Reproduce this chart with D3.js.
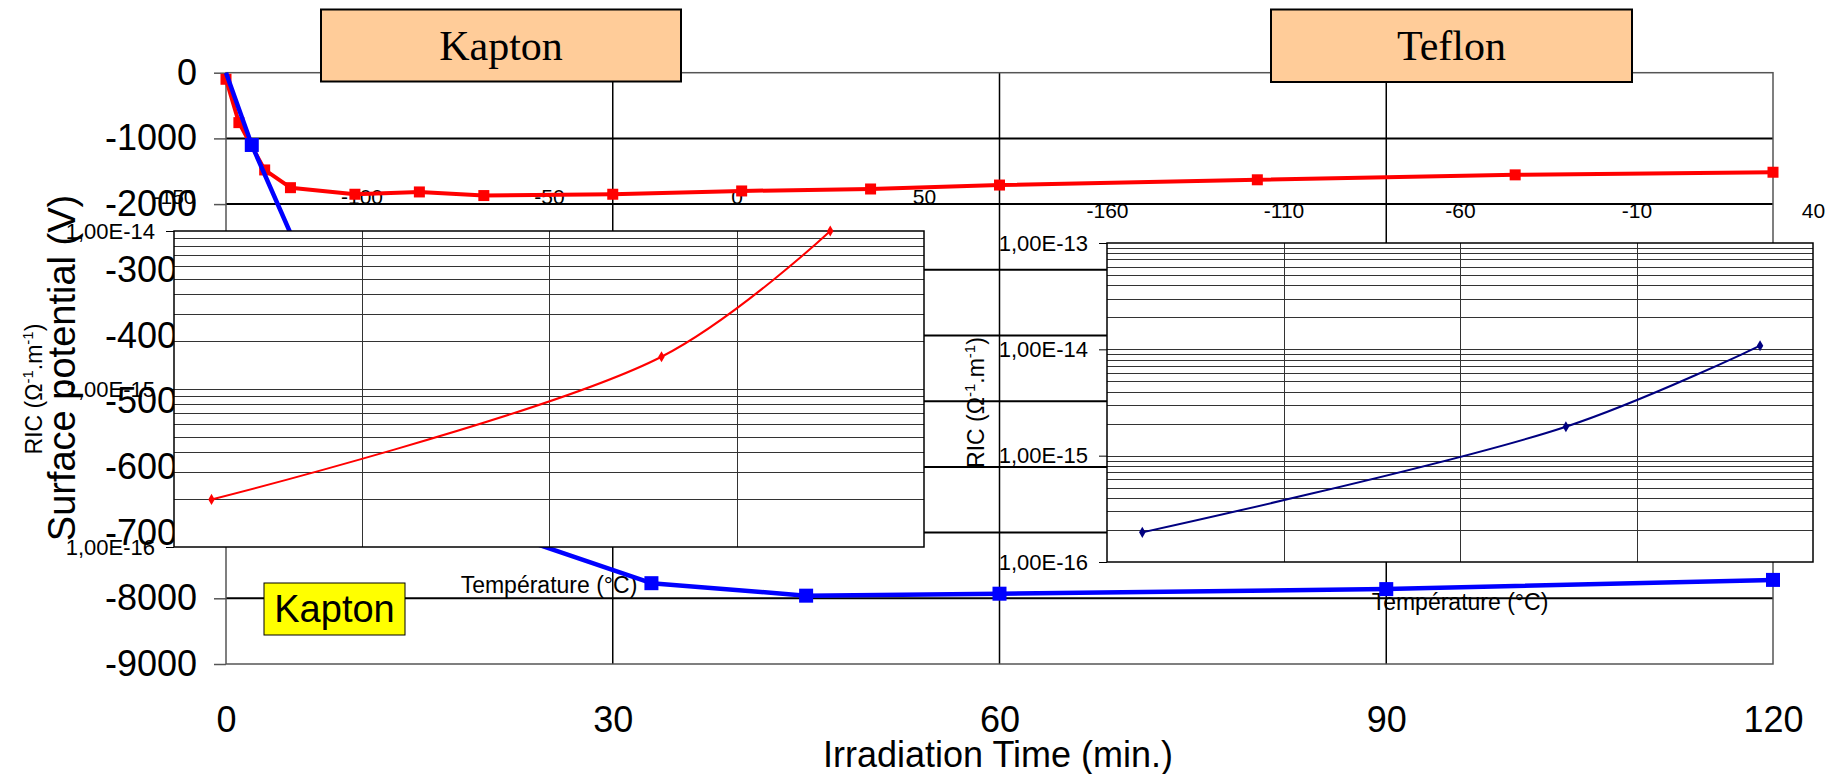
<!DOCTYPE html>
<html><head><meta charset="utf-8">
<script src="https://cdn.jsdelivr.net/npm/d3@7"></script>
<style>html,body{margin:0;padding:0;background:#fff;} svg{display:block;}</style>
</head><body>
<svg id="c" width="1844" height="774"></svg>
<script>
// ---- Main chart data (surface potential vs irradiation time) ----
const teflonTime = [0, 1, 3, 5, 10, 15, 20, 30, 40, 50, 60, 80, 100, 120];
const teflonPotential = [-100, -760, -1480, -1750, -1850, -1815, -1870, -1850, -1800, -1770, -1710, -1630, -1555, -1515];
const kaptonTime = [0, 2, 10, 15, 20, 33, 45, 60, 90, 120];
const kaptonPotential = [0, -1100, -4680, -6400, -6900, -7770, -7960, -7930, -7860, -7720];
const mainXTicks = [0, 30, 60, 90, 120];
const mainYTicks = [0, -1000, -2000, -3000, -4000, -5000, -6000, -7000, -8000, -9000];

// ---- Inset data (RIC vs temperature) ----
const kaptonRicTemp = [-140, -20, 25];
const kaptonRic = [2e-16, 1.6e-15, 1e-14];
const kaptonRicXTicks = [-150, -100, -50, 0, 50];
const kaptonRicYTicks = [1e-16, 1e-15, 1e-14];

const teflonRicTemp = [-150, -30, 25];
const teflonRic = [1.9e-16, 1.87e-15, 1.08e-14];
const teflonRicXTicks = [-160, -110, -60, -10, 40];
const teflonRicYTicks = [1e-16, 1e-15, 1e-14, 1e-13];

const SANS = "'Liberation Sans', Arial, sans-serif";
const SERIF = "'Liberation Serif', 'Times New Roman', serif";

const svg = d3.select("#c");
const x = d3.scaleLinear().domain([0, 120]).range([226, 1773]);
const y = d3.scaleLinear().domain([-9000, 0]).range([664, 72.7]);

// ---------- layer 1 : main grid, border, axes ----------
const gMain = svg.append("g");
gMain.selectAll("line.hg").data(mainYTicks.filter(v => v > -9000 && v < 0)).join("line")
  .attr("class", "hg")
  .attr("x1", x(0)).attr("x2", x(120))
  .attr("y1", d => y(d)).attr("y2", d => y(d))
  .attr("stroke", "#000").attr("stroke-width", 2);
gMain.selectAll("line.vg").data(mainXTicks.filter(v => v > 0 && v < 120)).join("line")
  .attr("class", "vg")
  .attr("x1", d => x(d)).attr("x2", d => x(d))
  .attr("y1", y(0)).attr("y2", y(-9000))
  .attr("stroke", "#000").attr("stroke-width", 1.5);
gMain.append("rect")
  .attr("x", x(0)).attr("y", y(0))
  .attr("width", x(120) - x(0)).attr("height", y(-9000) - y(0))
  .attr("fill", "none").attr("stroke", "#555").attr("stroke-width", 1.5);

const yAxis = gMain.append("g").attr("transform", `translate(${x(0)},0)`)
  .call(d3.axisLeft(y).tickValues(mainYTicks).tickSize(12).tickPadding(17).tickFormat(d => String(d)));
yAxis.select(".domain").remove();
yAxis.selectAll(".tick line").attr("stroke", "#555").attr("stroke-width", 1.5);
yAxis.selectAll("text").attr("font-family", SANS).attr("font-size", 36).attr("fill", "#000");

const xAxis = gMain.append("g").attr("transform", `translate(0,${y(-9000)})`)
  .call(d3.axisBottom(x).tickValues(mainXTicks).tickSize(0).tickPadding(42).tickFormat(d => String(d)));
xAxis.select(".domain").remove();
xAxis.selectAll("text").attr("font-family", SANS).attr("font-size", 36).attr("fill", "#000");

gMain.append("text").attr("x", 998).attr("y", 767).attr("text-anchor", "middle")
  .attr("font-family", SANS).attr("font-size", 36).text("Irradiation Time (min.)");
gMain.append("text").attr("transform", `translate(75,368) rotate(-90)`).attr("text-anchor", "middle")
  .attr("font-family", SANS).attr("font-size", 38).text("Surface potential (V)");

// ---------- inset definitions ----------
const fmtE = d => {
  const e = Math.round(Math.log10(d));
  const s = e < 0 ? "-" : "+";
  const a = Math.abs(e);
  return "1,00E" + s + (a < 10 ? "0" + a : a);
};
function minorValues(domain) {
  const out = [];
  const lo = Math.round(Math.log10(domain[0])), hi = Math.round(Math.log10(domain[1]));
  for (let k = lo; k < hi; k++) for (let m = 1; m <= 9; m++) out.push(m * Math.pow(10, k));
  return out.filter(v => v > domain[0] * 1.0001);
}

const insets = [
  { temps: kaptonRicTemp, ric: kaptonRic, xt: kaptonRicXTicks, yt: kaptonRicYTicks,
    xr: [174, 924], yr: [547, 231], xd: [-150, 50], yd: [1e-16, 1e-14],
    color: "#ff0000", labPad: 27, titleY: 593, ricX: 42 },
  { temps: teflonRicTemp, ric: teflonRic, xt: teflonRicXTicks, yt: teflonRicYTicks,
    xr: [1107, 1813], yr: [562, 243], xd: [-160, 40], yd: [1e-16, 1e-13],
    color: "#000080", labPad: 25, titleY: 610, ricX: 984 }
];
insets.forEach(s => {
  s.x = d3.scaleLinear().domain(s.xd).range(s.xr);
  s.y = d3.scaleLog().domain(s.yd).range(s.yr);
});

// ---------- layer 2 : inset labels (transparent areas) ----------
const gInsetLabels = svg.append("g");
insets.forEach(s => {
  const g = gInsetLabels.append("g");
  const ax = g.append("g").attr("transform", `translate(0,${s.yr[1]})`)
    .call(d3.axisTop(s.x).tickValues(s.xt).tickSize(0).tickPadding(s.labPad).tickFormat(d => String(d)));
  ax.select(".domain").remove();
  ax.selectAll("text").attr("font-family", SANS).attr("font-size", 21).attr("fill", "#000");

  const ay = g.append("g").attr("transform", `translate(${s.xr[0]},0)`)
    .call(d3.axisLeft(s.y).tickValues(s.yt).tickSize(8).tickPadding(11).tickFormat(fmtE));
  ay.select(".domain").remove();
  ay.selectAll(".tick line").attr("stroke", "#000").attr("stroke-width", 1);
  ay.selectAll("text").attr("font-family", SANS).attr("font-size", 22).attr("fill", "#000");

  g.append("text").attr("x", (s.xr[0] + s.xr[1]) / 2).attr("y", s.titleY).attr("text-anchor", "middle")
    .attr("font-family", SANS).attr("font-size", 23).text("Température (°C)");

  const t = g.append("text")
    .attr("transform", `translate(${s.ricX},${(s.yr[0] + s.yr[1]) / 2}) rotate(-90)`)
    .attr("text-anchor", "middle").attr("font-family", SANS).attr("font-size", 23);
  t.append("tspan").text("RIC (Ω");
  t.append("tspan").attr("dy", -9).attr("font-size", 15).text("-1");
  t.append("tspan").attr("dy", 9).text(".m");
  t.append("tspan").attr("dy", -9).attr("font-size", 15).text("-1");
  t.append("tspan").attr("dy", 9).text(")");
});

// ---------- layer 3 : main series ----------
const gSeries = svg.append("g");
const mainLine = d3.line().x(d => x(d[0])).y(d => y(d[1]));
const teflonPts = teflonTime.map((t, i) => [t, teflonPotential[i]]);
const kaptonPts = kaptonTime.map((t, i) => [t, kaptonPotential[i]]);

gSeries.append("path").attr("d", mainLine(teflonPts)).attr("fill", "none")
  .attr("stroke", "#ff0000").attr("stroke-width", 4).attr("stroke-linejoin", "round");
gSeries.selectAll("rect.tm").data(teflonPts).join("rect").attr("class", "tm")
  .attr("x", d => x(d[0]) - 5.5).attr("y", d => y(d[1]) - 5.5)
  .attr("width", 11).attr("height", 11).attr("fill", "#ff0000");

gSeries.append("path").attr("d", mainLine(kaptonPts)).attr("fill", "none")
  .attr("stroke", "#0000ff").attr("stroke-width", 4.5).attr("stroke-linejoin", "round");
gSeries.selectAll("rect.km").data(kaptonPts.filter(d => d[1] < 0)).join("rect").attr("class", "km")
  .attr("x", d => x(d[0]) - 7).attr("y", d => y(d[1]) - 7)
  .attr("width", 14).attr("height", 14).attr("fill", "#0000ff");

// ---------- layer 4 : inset plot areas ----------
insets.forEach(s => {
  const g = svg.append("g");
  g.append("rect").attr("x", s.xr[0]).attr("y", s.yr[1])
    .attr("width", s.xr[1] - s.xr[0]).attr("height", s.yr[0] - s.yr[1]).attr("fill", "#fff");
  g.selectAll("line.mh").data(minorValues(s.yd)).join("line").attr("class", "mh")
    .attr("x1", s.xr[0]).attr("x2", s.xr[1])
    .attr("y1", d => Math.round(s.y(d)) + 0.5).attr("y2", d => Math.round(s.y(d)) + 0.5)
    .attr("stroke", "#333").attr("stroke-width", 1);
  g.selectAll("line.mv").data(s.xt.filter(v => v > s.xd[0] && v < s.xd[1])).join("line").attr("class", "mv")
    .attr("x1", d => Math.round(s.x(d)) + 0.5).attr("x2", d => Math.round(s.x(d)) + 0.5)
    .attr("y1", s.yr[1]).attr("y2", s.yr[0])
    .attr("stroke", "#333").attr("stroke-width", 1);
  g.append("rect").attr("x", s.xr[0]).attr("y", s.yr[1])
    .attr("width", s.xr[1] - s.xr[0]).attr("height", s.yr[0] - s.yr[1])
    .attr("fill", "none").attr("stroke", "#000").attr("stroke-width", 1.5);
  const pts = s.temps.map((t, i) => [t, s.ric[i]]);
  const ln = d3.line().x(d => s.x(d[0])).y(d => s.y(d[1])).curve(d3.curveCatmullRom.alpha(0.5));
  g.append("path").attr("d", ln(pts)).attr("fill", "none").attr("stroke", s.color).attr("stroke-width", 2);
  g.selectAll("path.mk").data(pts).join("path").attr("class", "mk")
    .attr("transform", d => `translate(${s.x(d[0])},${s.y(d[1])})`)
    .attr("d", d3.symbol(d3.symbolDiamond, 36)).attr("fill", s.color);
});

// ---------- layer 5 : label boxes ----------
const boxes = [
  { label: "Kapton", x0: 321, x1: 681, y0: 9.5, y1: 81.5 },
  { label: "Teflon", x0: 1271, x1: 1632, y0: 9.5, y1: 82 }
];
const gBox = svg.append("g");
boxes.forEach(b => {
  gBox.append("rect").attr("x", b.x0).attr("y", b.y0).attr("width", b.x1 - b.x0).attr("height", b.y1 - b.y0)
    .attr("fill", "#ffcc99").attr("stroke", "#000").attr("stroke-width", 2);
  gBox.append("text").attr("x", (b.x0 + b.x1) / 2).attr("y", 60).attr("text-anchor", "middle")
    .attr("font-family", SERIF).attr("font-size", 42).text(b.label);
});
gBox.append("rect").attr("x", 264).attr("y", 583).attr("width", 141).attr("height", 52)
  .attr("fill", "#ffff00").attr("stroke", "#000").attr("stroke-width", 1);
gBox.append("text").attr("x", 334.5).attr("y", 621.5).attr("text-anchor", "middle")
  .attr("font-family", SANS).attr("font-size", 38).text("Kapton");
</script>
</body></html>
